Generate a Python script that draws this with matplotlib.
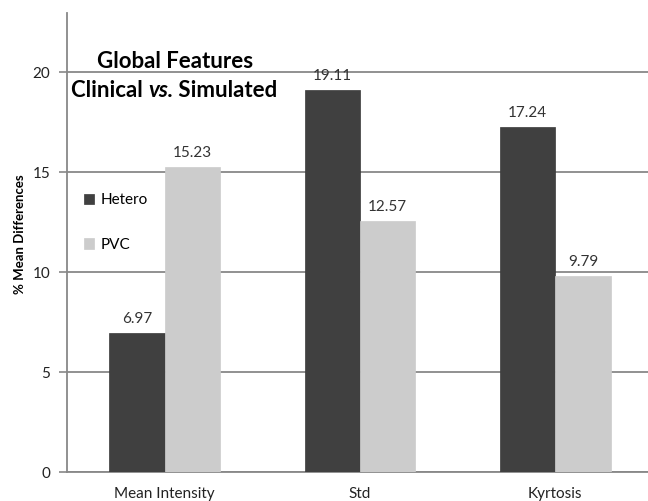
import matplotlib.pyplot as plt
import numpy as np

features = ['Mean Intensity', 'Std', 'Kyrtosis']
hetero = [6.97, 19.11, 17.24]
pvc = [15.23, 12.57, 9.79]

plt.rcParams['font.family'] = ['Lato', 'DejaVu Sans']

fig = plt.figure(figsize=(6.48, 5.01), dpi=100)
ax = fig.add_axes([67 / 648, 29 / 501, 586 / 648, 459 / 501])

x = np.arange(len(features))
w = 0.283
b1 = ax.bar(x - w / 2, hetero, w, color='#404040', edgecolor='#3a3a3a', lw=0.5, label='Hetero', zorder=3)
b2 = ax.bar(x + w / 2, pvc, w, color='#cccccc', edgecolor='#cccccc', lw=0.5, label='PVC', zorder=3)

for bars, vals in ((b1, hetero), (b2, pvc)):
    for r, v in zip(bars, vals):
        ax.annotate(f'{v:.2f}', (r.get_x() + r.get_width() / 2, v),
                    xytext=(0, 5), textcoords='offset points',
                    ha='center', va='bottom', fontsize=11, color='#333333')

ax.set_xlim(-0.5, 2.5)
ax.set_ylim(0, 22.95)
ax.set_yticks([0, 5, 10, 15, 20])
ax.set_xticks(x)
ax.set_xticklabels(features)
ax.tick_params(axis='x', length=0, pad=11, labelsize=11, colors='#222222')
ax.tick_params(axis='y', length=6, width=1.2, color='#888888', pad=6, labelsize=11, labelcolor='#222222')
ax.grid(axis='y', color='#888888', lw=1.3, zorder=1)
for s in ('top', 'right'):
    ax.spines[s].set_visible(False)
for s in ('left', 'bottom'):
    ax.spines[s].set_color('#888888')
    ax.spines[s].set_linewidth(1.3)

ax.set_ylabel('% Mean Differences', fontsize=9.5, fontweight='bold')
ax.yaxis.set_label_coords(-0.070, 0.518)

# two-line heading, with "vs." in italics
fig.text(97 / 648, 1 - 62 / 501, 'Global Features', fontsize=16, fontweight='bold',
         ha='left', va='center')
t1 = fig.text(71 / 648, 1 - 97 / 501, 'Clinical ', fontsize=16, fontweight='bold',
              ha='left', va='baseline')
t2 = ax.annotate('vs.', xy=(1, 0), xycoords=t1, fontsize=16, fontweight='bold',
                 style='italic', ha='left', va='bottom')
ax.annotate(' Simulated', xy=(1, 0), xycoords=t2, fontsize=16, fontweight='bold',
            ha='left', va='bottom')

ax.legend(loc='upper left', bbox_to_anchor=(0.005, 0.637), frameon=False, fontsize=11,
          handlelength=0.7, handleheight=0.7, handletextpad=0.4, labelspacing=2.0)

fig.savefig('out.png', dpi=100)
